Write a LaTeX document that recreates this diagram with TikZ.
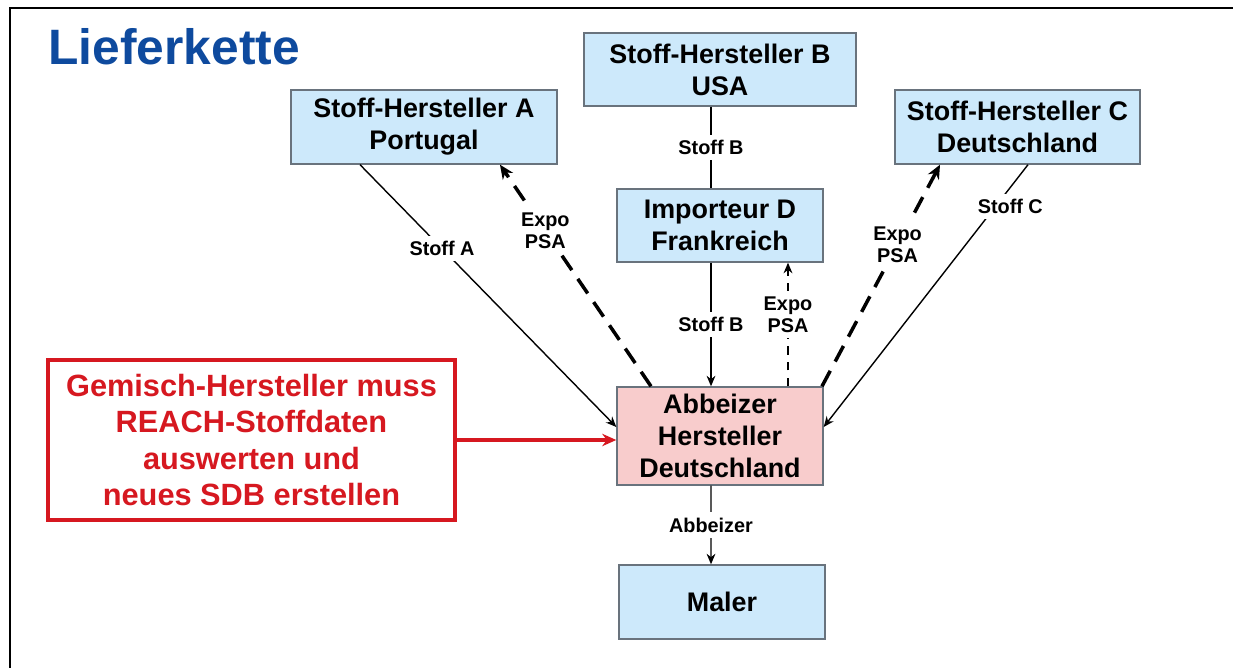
\documentclass[tikz,border=0pt]{standalone}
\usepackage{fontspec}
\setmainfont{Liberation Sans}
\usetikzlibrary{arrows,arrows.meta,positioning}
\definecolor{lkblue}{RGB}{14,74,158}
\definecolor{lklightblue}{RGB}{205,233,251}
\definecolor{lkpink}{RGB}{248,204,204}
\definecolor{lkred}{RGB}{214,24,32}
\definecolor{lkgray}{RGB}{105,115,125}
\tikzstyle{firma} = [rectangle, minimum width=5.32cm, minimum height=1.48cm, align=center, draw=lkgray, fill=lklightblue, line width=0.8pt, font=\fontsize{15.3}{18.2}\selectfont\bfseries]
\tikzstyle{arrow} = [-{Stealth[length=6pt,width=5pt]}, line width=0.8pt]
\tikzstyle{expo} = [-{Stealth[length=8pt,width=7pt]}, line width=2pt, dash pattern=on 10pt off 6pt]
\tikzstyle{expod} = [-{Stealth[length=6pt,width=5pt]}, line width=1.2pt, dash pattern=on 5pt off 4pt]
\tikzstyle{lbl} = [fill=white, align=center, font=\fontsize{11.3}{12.5}\selectfont\bfseries, inner sep=3pt]

\begin{document}
\begin{tikzpicture}[x=0.02cm, y=-0.02cm]
\useasboundingbox (0,0) rectangle (1233,668);
% Rahmen
\draw[line width=1pt] (10,668) -- (10,8) -- (1233,8);

% Titel
\node[anchor=base west, inner sep=0, text=lkblue, font=\fontsize{28.3}{34}\selectfont\bfseries] (titel) at (48,65) {Lieferkette};

% Hersteller
\node[firma] (a) at (424,127) {Stoff-Hersteller A\\Portugal};
\node[firma, minimum width=5.44cm, minimum height=1.46cm] (b) at (720,69.5) {Stoff-Hersteller B\\USA};
\node[firma, minimum width=4.9cm] (c) at (1017.5,127) {Stoff-Hersteller C\\Deutschland};
\node[firma, minimum width=4.12cm, minimum height=1.46cm] (d) at (720,225.5) {Importeur D\\Frankreich};

% Abbeizer und Maler
\node[firma, minimum width=4.12cm, minimum height=1.96cm, fill=lkpink] (ab) at (720,436) {Abbeizer\\Hersteller\\Deutschland};
\node[firma, minimum width=4.12cm] (maler) at (722,602) {Maler};

% Hinweis
\node[rectangle, draw=lkred, line width=2pt, minimum width=8.14cm, minimum height=3.2cm, align=center, text=lkred, font=\fontsize{17.5}{20.5}\selectfont\bfseries] (hinweis) at (251.5,440) {Gemisch-Hersteller muss\\REACH-Stoffdaten\\auswerten und\\neues SDB erstellen};

% Connections
\draw[arrow] ([xshift=-1.28cm]a.south) -- node[lbl, pos=0.32] {Stoff A} ([yshift=0.18cm]ab.west);
\draw[expo] ([xshift=-1.38cm]ab.north) -- node[lbl, pos=0.7] {Expo\\PSA} ([xshift=1.52cm]a.south);
\draw[line width=0.8pt] ([xshift=-0.18cm]b.south) -- node[lbl] {Stoff B} ([xshift=-0.18cm]d.north);
\draw[arrow] ([xshift=-0.18cm]d.south) -- node[lbl] {Stoff B} ([xshift=-0.18cm]ab.north);
\draw[expod] ([xshift=1.36cm]ab.north) -- node[lbl, pos=0.58] {Expo\\PSA} ([xshift=1.36cm]d.south);
\draw[expo] ([xshift=2.04cm]ab.north) -- node[lbl, pos=0.64] {Expo\\PSA} ([xshift=-1.55cm]c.south);
\draw[arrow] ([xshift=0.21cm]c.south) -- node[lbl, pos=0.16, xshift=0.3cm] {Stoff C} ([yshift=0.18cm]ab.east);
\draw[arrow] ([xshift=-0.18cm]ab.south) -- node[lbl] {Abbeizer} ([xshift=-0.22cm]maler.north);

% Hinweis-Pfeil
\draw[-{Stealth[length=8pt,width=7pt]}, lkred, line width=2pt] (hinweis.east) -- (hinweis.east -| ab.west);
\end{tikzpicture}
\end{document}
